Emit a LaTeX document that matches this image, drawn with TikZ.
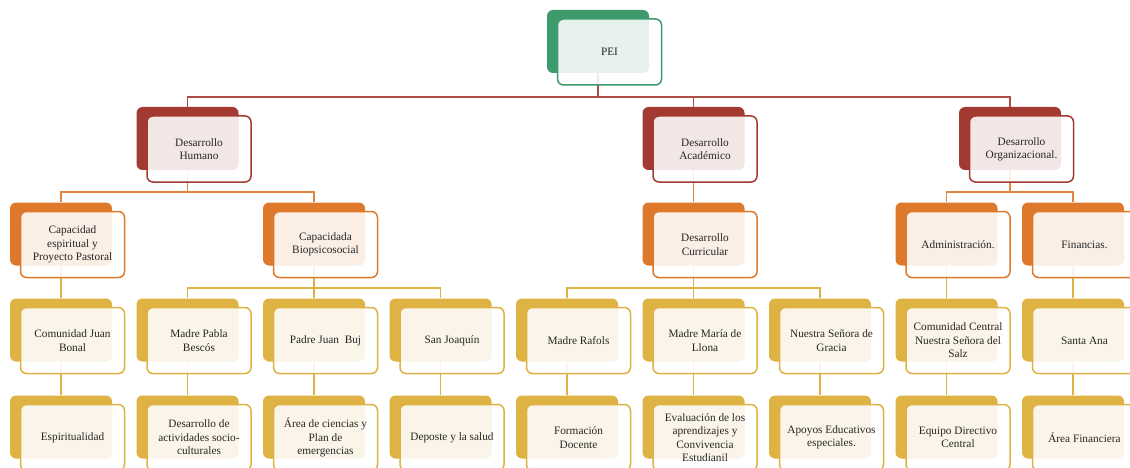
\documentclass[tikz,border=0pt]{standalone}
\usepackage{fontspec}
\setmainfont{Liberation Serif}
\usepackage{tikz}
\usetikzlibrary{positioning}
\definecolor{peigreen}{RGB}{60,154,108}
\definecolor{deepred}{RGB}{163,58,50}
\definecolor{orangeacc}{RGB}{222,121,43}
\definecolor{goldacc}{RGB}{222,178,67}
\definecolor{inktext}{RGB}{38,38,38}

\begin{document}
\begin{tikzpicture}[
        x=1pt, y=-1pt,
        back/.style={rectangle, rounded corners=6pt, minimum width=102pt, minimum height=63pt, inner sep=0pt},
        front/.style={rectangle, rounded corners=6pt, minimum width=104pt, minimum height=66pt, inner sep=0pt,
            fill=white, fill opacity=0.88, text opacity=1, line width=1.5pt, align=center, text=inktext,
            font=\fontsize{11.3}{13.4}\selectfont},
        link/.style={line width=1.9pt},
    ]
    \useasboundingbox (0,0) rectangle (1130,468);
    % back plates
    \node[back, fill=peigreen] (pei) at (598,41.5) {};
    \node[back, fill=deepred] (dh) at (187.5,138.5) {};
    \node[back, fill=deepred] (da) at (693.5,138.5) {};
    \node[back, fill=deepred] (do) at (1010,138.5) {};
    \node[back, fill=orangeacc] (ce) at (61,234) {};
    \node[back, fill=orangeacc] (cb) at (314,234) {};
    \node[back, fill=orangeacc] (dc) at (693.5,234) {};
    \node[back, fill=orangeacc] (adm) at (946.5,234) {};
    \node[back, fill=orangeacc] (fin) at (1073,234) {};
    \node[back, fill=goldacc] (cj) at (61,330) {};
    \node[back, fill=goldacc] (mp) at (187.5,330) {};
    \node[back, fill=goldacc] (pj) at (314,330) {};
    \node[back, fill=goldacc] (sj) at (440.5,330) {};
    \node[back, fill=goldacc] (mr) at (567,330) {};
    \node[back, fill=goldacc] (mm) at (693.5,330) {};
    \node[back, fill=goldacc] (ns) at (820,330) {};
    \node[back, fill=goldacc] (cc) at (946.5,330) {};
    \node[back, fill=goldacc] (sa) at (1073,330) {};
    \node[back, fill=goldacc] (esp) at (61,427) {};
    \node[back, fill=goldacc] (dac) at (187.5,427) {};
    \node[back, fill=goldacc] (acp) at (314,427) {};
    \node[back, fill=goldacc] (dep) at (440.5,427) {};
    \node[back, fill=goldacc] (fd) at (567,427) {};
    \node[back, fill=goldacc] (eva) at (693.5,427) {};
    \node[back, fill=goldacc] (apo) at (820,427) {};
    \node[back, fill=goldacc] (edc) at (946.5,427) {};
    \node[back, fill=goldacc] (af) at (1073,427) {};
    % connectors
    \draw[link, deepred!90] (pei.south) |- ([yshift=10pt]dh.north) -- (dh.north);
    \draw[link, deepred!90] (pei.south) |- ([yshift=10pt]da.north) -- (da.north);
    \draw[link, deepred!90] (pei.south) |- ([yshift=10pt]do.north) -- (do.north);
    \draw[link, orangeacc!90] (dh.south) |- ([yshift=10pt]ce.north) -- (ce.north);
    \draw[link, orangeacc!90] (dh.south) |- ([yshift=10pt]cb.north) -- (cb.north);
    \draw[link, orangeacc!90] (da.south) |- ([yshift=10pt]dc.north) -- (dc.north);
    \draw[link, orangeacc!90] (do.south) |- ([yshift=10pt]adm.north) -- (adm.north);
    \draw[link, orangeacc!90] (do.south) |- ([yshift=10pt]fin.north) -- (fin.north);
    \draw[link, goldacc] (ce.south) |- ([yshift=10pt]cj.north) -- (cj.north);
    \draw[link, goldacc] (cb.south) |- ([yshift=10pt]mp.north) -- (mp.north);
    \draw[link, goldacc] (cb.south) |- ([yshift=10pt]pj.north) -- (pj.north);
    \draw[link, goldacc] (cb.south) |- ([yshift=10pt]sj.north) -- (sj.north);
    \draw[link, goldacc] (dc.south) |- ([yshift=10pt]mr.north) -- (mr.north);
    \draw[link, goldacc] (dc.south) |- ([yshift=10pt]mm.north) -- (mm.north);
    \draw[link, goldacc] (dc.south) |- ([yshift=10pt]ns.north) -- (ns.north);
    \draw[link, goldacc] (adm.south) -- (cc.north);
    \draw[link, goldacc] (fin.south) -- (sa.north);
    \draw[link, goldacc] (cj.south) -- (esp.north);
    \draw[link, goldacc] (mp.south) -- (dac.north);
    \draw[link, goldacc] (pj.south) -- (acp.north);
    \draw[link, goldacc] (sj.south) -- (dep.north);
    \draw[link, goldacc] (mr.south) -- (fd.north);
    \draw[link, goldacc] (mm.south) -- (eva.north);
    \draw[link, goldacc] (ns.south) -- (apo.north);
    \draw[link, goldacc] (cc.south) -- (edc.north);
    \draw[link, goldacc] (sa.south) -- (af.north);
    % front cards
    \node[front, draw=peigreen] (peit) at ([shift={(11.5,10.5)}]pei) {PEI};
    \node[front, draw=deepred] (dht) at ([shift={(11.5,10.5)}]dh) {Desarrollo\\Humano};
    \node[front, draw=deepred] (dat) at ([shift={(11.5,10.5)}]da) {Desarrollo\\Académico};
    \node[front, draw=deepred] (dot) at ([shift={(11.5,10.5)}]do) {Desarrollo\\Organizacional.};
    \node[front, draw=orangeacc] (cet) at ([shift={(11.5,10.5)}]ce) {Capacidad\\espiritual y\\Proyecto Pastoral};
    \node[front, draw=orangeacc] (cbt) at ([shift={(11.5,10.5)}]cb) {Capacidada\\Biopsicosocial};
    \node[front, draw=orangeacc] (dct) at ([shift={(11.5,10.5)}]dc) {Desarrollo\\Curricular};
    \node[front, draw=orangeacc] (admt) at ([shift={(11.5,10.5)}]adm) {Administración.};
    \node[front, draw=orangeacc] (fint) at ([shift={(11.5,10.5)}]fin) {Financias.};
    \node[front, draw=goldacc] (cjt) at ([shift={(11.5,10.5)}]cj) {Comunidad Juan\\Bonal};
    \node[front, draw=goldacc] (mpt) at ([shift={(11.5,10.5)}]mp) {Madre Pabla\\Bescós};
    \node[front, draw=goldacc] (pjt) at ([shift={(11.5,10.5)}]pj) {Padre Juan\ \ Buj};
    \node[front, draw=goldacc] (sjt) at ([shift={(11.5,10.5)}]sj) {San Joaquín};
    \node[front, draw=goldacc] (mrt) at ([shift={(11.5,10.5)}]mr) {Madre Rafols};
    \node[front, draw=goldacc] (mmt) at ([shift={(11.5,10.5)}]mm) {Madre María de\\Llona};
    \node[front, draw=goldacc] (nst) at ([shift={(11.5,10.5)}]ns) {Nuestra Señora de\\Gracia};
    \node[front, draw=goldacc] (cct) at ([shift={(11.5,10.5)}]cc) {Comunidad Central\\Nuestra Señora del\\Salz};
    \node[front, draw=goldacc] (sat) at ([shift={(11.5,10.5)}]sa) {Santa Ana};
    \node[front, draw=goldacc] (espt) at ([shift={(11.5,10.5)}]esp) {Espiritualidad};
    \node[front, draw=goldacc] (dact) at ([shift={(11.5,10.5)}]dac) {Desarrollo de\\actividades socio-\\culturales};
    \node[front, draw=goldacc] (acpt) at ([shift={(11.5,10.5)}]acp) {Área de ciencias y\\Plan de\\emergencias};
    \node[front, draw=goldacc] (dept) at ([shift={(11.5,10.5)}]dep) {Deposte y la salud};
    \node[front, draw=goldacc] (fdt) at ([shift={(11.5,10.5)}]fd) {Formación\\Docente};
    \node[front, draw=goldacc] (evat) at ([shift={(11.5,10.5)}]eva) {Evaluación de los\\aprendizajes y\\Convivencia\\Estudianil};
    \node[front, draw=goldacc] (apot) at ([shift={(11.5,10.5)}]apo) {Apoyos Educativos\\especiales.};
    \node[front, draw=goldacc] (edct) at ([shift={(11.5,10.5)}]edc) {Equipo Directivo\\Central};
    \node[front, draw=goldacc] (aft) at ([shift={(11.5,10.5)}]af) {Área Financiera};
\end{tikzpicture}
\end{document}
